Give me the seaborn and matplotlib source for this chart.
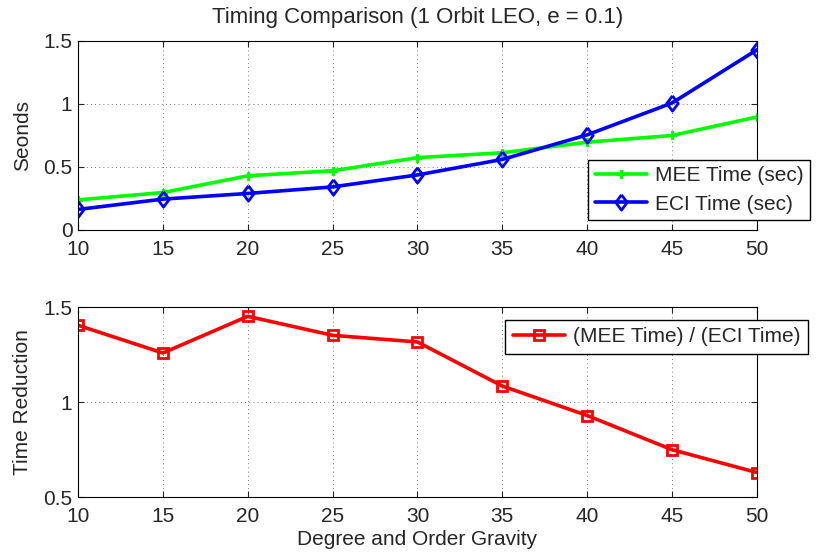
import matplotlib
matplotlib.use("Agg")
import matplotlib.pyplot as plt
import seaborn as sns
import pandas as pd

degree = [10, 15, 20, 25, 30, 35, 40, 45, 50]
mee_time = [0.239, 0.297, 0.430, 0.470, 0.574, 0.613, 0.697, 0.750, 0.897]
eci_time = [0.163, 0.245, 0.290, 0.342, 0.437, 0.560, 0.755, 1.008, 1.430]
ratio = [1.404, 1.258, 1.451, 1.351, 1.316, 1.084, 0.929, 0.749, 0.629]

sns.set_style("ticks")
plt.rcParams['font.family'] = ['Liberation Sans', 'DejaVu Sans']
plt.rcParams['font.size'] = 15

FS = 15
diamond = [(0, 1), (0.75, 0), (0, -1), (-0.75, 0), (0, 1)]

fig = plt.figure(figsize=(8.16, 5.57), dpi=100)
ax1 = fig.add_axes([0.0956, 0.5871, 0.832, 0.3393])
ax2 = fig.add_axes([0.0956, 0.1077, 0.832, 0.3411])

df1 = pd.DataFrame({"Degree": degree, "MEE Time (sec)": mee_time, "ECI Time (sec)": eci_time})
sns.lineplot(data=df1, x="Degree", y="MEE Time (sec)", ax=ax1, color="#00ff00", lw=2.6,
             marker="P", markersize=6, markeredgecolor="#00ff00", label="MEE Time (sec)")
sns.lineplot(data=df1, x="Degree", y="ECI Time (sec)", ax=ax1, color="#0000ff", lw=2.6,
             marker=diamond, markersize=11, markerfacecolor="none", markeredgecolor="#0000ff",
             markeredgewidth=2, label="ECI Time (sec)")

df2 = pd.DataFrame({"Degree": degree, "Ratio": ratio})
sns.lineplot(data=df2, x="Degree", y="Ratio", ax=ax2, color="#ff0000", lw=2.6,
             marker="s", markersize=7.5, markerfacecolor="none", markeredgecolor="#ff0000",
             markeredgewidth=2, label="(MEE Time) / (ECI Time)")

for ax in (ax1, ax2):
    ax.set_xlim(10, 50)
    ax.set_xticks(degree)
    ax.grid(True, color="black", linestyle=(0, (1, 4)), linewidth=0.6, alpha=0.7)
    ax.tick_params(direction="in", top=True, right=True, length=4, labelsize=FS)
    ax.tick_params(axis="x", pad=7)
    ax.tick_params(axis="y", pad=4)
    for s in ax.spines.values():
        s.set_visible(True)
        s.set_color("black")
        s.set_linewidth(0.8)

ax1.set_ylim(0, 1.5)
ax1.set_yticks([0, 0.5, 1, 1.5])
ax1.set_yticklabels(["0", "0.5", "1", "1.5"])
ax1.set_xlabel("")
ax1.set_ylabel("Seonds", fontsize=FS, labelpad=8)
ax1.set_title("Timing Comparison (1 Orbit LEO, e = 0.1)", fontsize=16, pad=13)
leg1 = ax1.legend(loc="upper right", bbox_to_anchor=(1.078, 0.37), fontsize=FS, frameon=True,
                  fancybox=False, edgecolor="black", framealpha=1, borderaxespad=0,
                  handlelength=2.5, handletextpad=0.4, borderpad=0.3, labelspacing=0.45)
leg1.get_frame().set_linewidth(1.0)

ax2.set_ylim(0.5, 1.5)
ax2.set_yticks([0.5, 1, 1.5])
ax2.set_yticklabels(["0.5", "1", "1.5"])
ax2.set_xlabel("Degree and Order Gravity", fontsize=FS, labelpad=3)
ax2.set_ylabel("Time Reduction", fontsize=FS, labelpad=8)
leg2 = ax2.legend(loc="upper right", bbox_to_anchor=(1.075, 0.932), fontsize=FS, frameon=True,
                  fancybox=False, edgecolor="black", framealpha=1, borderaxespad=0,
                  handlelength=2.5, handletextpad=0.4, borderpad=0.35, labelspacing=0.2)
leg2.get_frame().set_linewidth(1.0)

fig.savefig("out.png", dpi=100)
